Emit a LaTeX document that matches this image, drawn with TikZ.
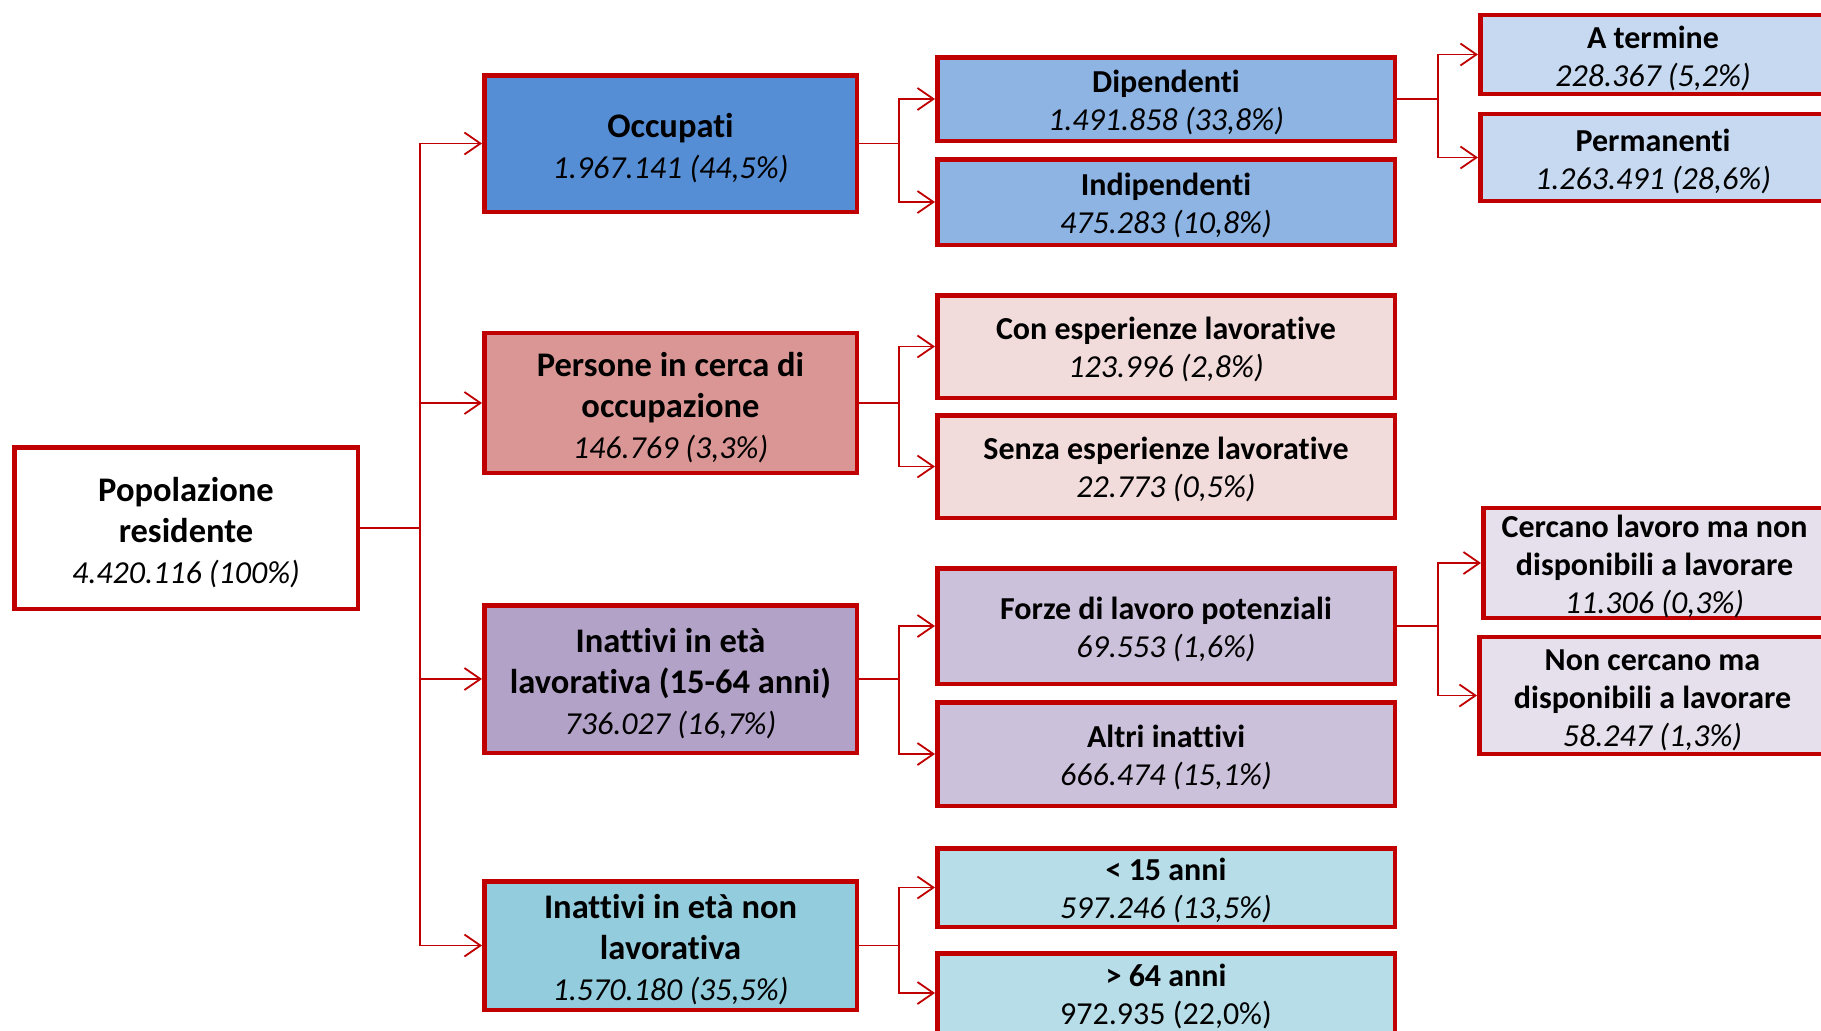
\documentclass[tikz,border=0pt]{standalone}
\usepackage{fontspec}
\setmainfont{Carlito}[Ligatures=NoCommon]
\usetikzlibrary{arrows.meta}

\definecolor{boxred}{HTML}{C00000}
\definecolor{occblue}{HTML}{558ED5}
\definecolor{dipblue}{HTML}{8EB4E3}
\definecolor{termblue}{HTML}{C6D9F1}
\definecolor{cercared}{HTML}{D99694}
\definecolor{esprose}{HTML}{F2DCDB}
\definecolor{inatpurple}{HTML}{B3A2C7}
\definecolor{forzepurple}{HTML}{CCC1DA}
\definecolor{dispurple}{HTML}{E6E0EC}
\definecolor{nonlavcyan}{HTML}{93CDDD}
\definecolor{annicyan}{HTML}{B7DEE8}

% italic figure line
\newcommand{\cifra}[1]{{\fontsize{32}{41}\selectfont\mdseries\itshape #1}}

\begin{document}
\begin{tikzpicture}[
    x=1pt, y=-1pt,
    box/.style={rectangle, draw=boxred, line width=4.5pt, align=flush center, inner sep=0pt},
    level2/.style={box, minimum width=372.5pt, text width=372.5pt, font=\fontsize{34.5}{41}\selectfont\bfseries,
        execute at begin node={\rule{0pt}{33pt}}},
    level3/.style={box, minimum width=457.5pt, text width=457.5pt, font=\fontsize{32}{38}\selectfont\bfseries,
        execute at begin node={\rule{0pt}{29pt}}},
    level4/.style={box, minimum width=345.5pt, text width=345.5pt, font=\fontsize{32}{38}\selectfont\bfseries,
        execute at begin node={\rule{0pt}{30pt}}},
    arrow/.style={-{Straight Barb[length=16pt,width=22pt]}, boxred, line width=1.8pt}
]
\useasboundingbox (0,0) rectangle (1821,1031);
\clip (0,0) rectangle (1821,1031);

% root
\node[level2, fill=white, minimum width=343.5pt, text width=343.5pt, minimum height=161.5pt] (pop) at (186,528)
    {Popolazione\\residente\\\cifra{4.420.116 (100\%)}};

% second level
\node[level2, fill=occblue, minimum height=136.5pt] (occ) at (670.5,143.5)
    {Occupati\\\cifra{1.967.141 (44,5\%)}};
\node[level2, fill=cercared, minimum height=140pt] (cerca) at (670.5,403)
    {Persone in cerca di\\occupazione\\\cifra{146.769 (3,3\%)}};
\node[level2, fill=inatpurple, minimum height=147.5pt] (inatlav) at (670.5,679)
    {Inattivi in età\\lavorativa (15-64 anni)\\\cifra{736.027 (16,7\%)}};
\node[level2, fill=nonlavcyan, minimum height=128.5pt] (inatnon) at (670.5,945.5)
    {Inattivi in età non\\lavorativa\\\cifra{1.570.180 (35,5\%)}};

% third level
\node[level3, fill=dipblue, minimum height=83.5pt] (dip) at (1166,99)
    {Dipendenti\\\cifra{1.491.858 (33,8\%)}};
\node[level3, fill=dipblue, minimum height=85.5pt] (indip) at (1166,202)
    {Indipendenti\\\cifra{475.283 (10,8\%)}};
\node[level3, fill=esprose, minimum height=102.5pt] (conesp) at (1166,346.5)
    {Con esperienze lavorative\\\cifra{123.996 (2,8\%)}};
\node[level3, fill=esprose, minimum height=102.5pt] (senzaesp) at (1166,466.5)
    {Senza esperienze lavorative\\\cifra{22.773 (0,5\%)}};
\node[level3, fill=forzepurple, minimum height=115.5pt] (forze) at (1166,626)
    {Forze di lavoro potenziali\\\cifra{69.553 (1,6\%)}};
\node[level3, fill=forzepurple, minimum height=103.5pt] (altri) at (1166,754)
    {Altri inattivi\\\cifra{666.474 (15,1\%)}};
\node[level3, fill=annicyan, minimum height=78.5pt] (meno15) at (1166,887.5)
    {< 15 anni\\\cifra{597.246 (13,5\%)}};
\node[level3, fill=annicyan, minimum height=79.5pt] (oltre64) at (1166,993)
    {> 64 anni\\\mdseries 972.935 (22,0\%)};

% fourth level
\node[level4, fill=termblue, minimum height=79pt] (aterm) at (1653,54.5)
    {A termine\\\cifra{228.367 (5,2\%)}};
\node[level4, fill=termblue, minimum height=87pt] (perm) at (1653,157.5)
    {Permanenti\\\cifra{1.263.491 (28,6\%)}};
\node[level4, fill=dispurple, minimum width=342.5pt, text width=342.5pt, minimum height=107pt] (cercano) at (1654.5,563)
    {Cercano lavoro ma non\\disponibili a lavorare\\\cifra{11.306 (0,3\%)}};
\node[level4, fill=dispurple, minimum width=346.5pt, text width=346.5pt, minimum height=117pt] (noncercano) at (1652.5,695.5)
    {Non cercano ma\\disponibili a lavorare\\\cifra{58.247 (1,3\%)}};

% connectors
\coordinate (trunk) at (420,528);
\draw[arrow] (pop.east) -- (trunk) |- (occ.west);
\draw[arrow] (pop.east) -- (trunk) |- (cerca.west);
\draw[arrow] (pop.east) -- (trunk) |- (inatlav.west);
\draw[arrow] (pop.east) -- (trunk) |- (inatnon.west);

\draw[arrow] (occ.east) -- ++(40,0) |- (dip.west);
\draw[arrow] (occ.east) -- ++(40,0) |- (indip.west);
\draw[arrow] (cerca.east) -- ++(40,0) |- (conesp.west);
\draw[arrow] (cerca.east) -- ++(40,0) |- (senzaesp.west);
\draw[arrow] (inatlav.east) -- ++(40,0) |- (forze.west);
\draw[arrow] (inatlav.east) -- ++(40,0) |- (altri.west);
\draw[arrow] (inatnon.east) -- ++(40,0) |- (meno15.west);
\draw[arrow] (inatnon.east) -- ++(40,0) |- (oltre64.west);

\draw[arrow] (dip.east) -- ++(41,0) |- (aterm.west);
\draw[arrow] (dip.east) -- ++(41,0) |- (perm.west);
\draw[arrow] (forze.east) -- ++(41,0) |- (cercano.west);
\draw[arrow] (forze.east) -- ++(41,0) |- (noncercano.west);
\end{tikzpicture}
\end{document}
